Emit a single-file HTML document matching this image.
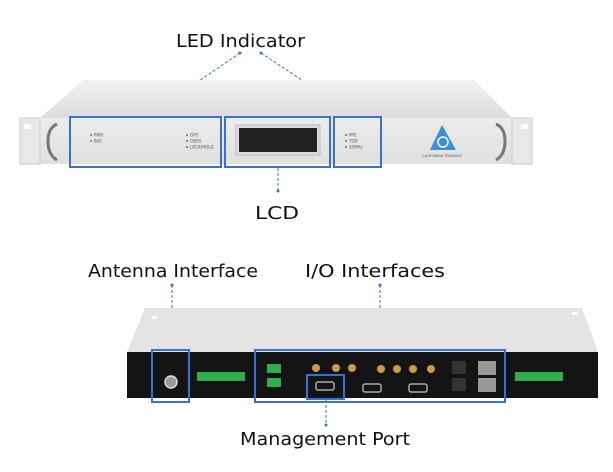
<!DOCTYPE html>
<html><head><meta charset="utf-8"><style>
html,body{margin:0;padding:0;background:#fff;}
svg{display:block}
text{font-family:"DejaVu Sans","Liberation Sans",sans-serif;}
</style></head><body>
<svg width="613" height="472" viewBox="0 0 613 472" xmlns="http://www.w3.org/2000/svg">
<defs>
<linearGradient id="top" x1="0" y1="0" x2="0" y2="1"><stop offset="0" stop-color="#f2f2f2"/><stop offset="1" stop-color="#dcdcdc"/></linearGradient>
<linearGradient id="front" x1="0" y1="0" x2="0" y2="1"><stop offset="0" stop-color="#ececec"/><stop offset="1" stop-color="#e0e0e0"/></linearGradient>
</defs>
<text x="176" y="47" font-size="18" fill="#111" textLength="129" lengthAdjust="spacingAndGlyphs">LED Indicator</text>
<g stroke="#3d6fd0" stroke-width="1" stroke-dasharray="3,2" fill="none">
<line x1="240" y1="53" x2="146" y2="117"/>
<line x1="261" y1="53" x2="358" y2="117"/>
<line x1="278" y1="168" x2="278" y2="190"/>
</g>
<circle cx="240" cy="53" r="1.5" fill="#3d6fd0"/><circle cx="261" cy="53" r="1.5" fill="#3d6fd0"/><circle cx="278" cy="191" r="1.5" fill="#3d6fd0"/>
<polygon points="83,80 474,80 512,118 40,118" fill="url(#top)"/>
<rect x="40" y="118" width="472" height="46" fill="url(#front)"/>
<rect x="20" y="118" width="20" height="46" fill="#e8e8e8" stroke="#ccc"/>
<rect x="512" y="118" width="20" height="46" fill="#e8e8e8" stroke="#ccc"/>
<rect x="24" y="124" width="7" height="5" rx="2" fill="#fff"/><rect x="521" y="124" width="7" height="5" rx="2" fill="#fff"/>
<path d="M57,124 Q48,128 48,141 Q48,155 57,160" stroke="#777" stroke-width="3" fill="none"/>
<path d="M496,124 Q505,128 505,141 Q505,155 496,160" stroke="#777" stroke-width="3" fill="none"/>
<rect x="236" y="125" width="84" height="30" fill="#ddd" stroke="#bbb"/>
<rect x="239" y="128" width="78" height="24" fill="#222"/>
<g font-size="4" fill="#555">
<circle cx="91" cy="135" r="1" fill="#2a2"/><text x="94" y="136.5">PWR</text>
<circle cx="91" cy="141" r="1" fill="#2a2"/><text x="94" y="142.5">BAC</text>
<circle cx="187" cy="135" r="1" fill="#2a2"/><text x="190" y="136.5">GPS</text>
<circle cx="187" cy="141" r="1" fill="#2a2"/><text x="190" y="142.5">GNSS</text>
<circle cx="187" cy="147" r="1" fill="#2a2"/><text x="190" y="148.5">LOCK/HOLD</text>
<circle cx="346" cy="135" r="1" fill="#2a2"/><text x="349" y="136.5">PPS</text>
<circle cx="346" cy="141" r="1" fill="#2a2"/><text x="349" y="142.5">TOD</text>
<circle cx="346" cy="147" r="1" fill="#2a2"/><text x="349" y="148.5">10MHz</text>
<text x="422" y="157" font-size="3.5">CALIFORNIA TRIANGLE</text>
</g>
<polygon points="442,125 430,150 456,150" fill="#3a8fd8"/>
<circle cx="443" cy="142" r="5" fill="none" stroke="#fff" stroke-width="1.5"/>
<g stroke="#3d6fd0" stroke-width="2" fill="none">
<rect x="70" y="117" width="151" height="50"/>
<rect x="225" y="117" width="105" height="50"/>
<rect x="334" y="117" width="47" height="50"/>
</g>
<text x="255" y="219" font-size="18" fill="#111" textLength="44" lengthAdjust="spacingAndGlyphs">LCD</text>
<text x="88" y="277" font-size="18" fill="#111" textLength="170" lengthAdjust="spacingAndGlyphs">Antenna Interface</text>
<text x="305" y="277" font-size="18" fill="#111" textLength="140" lengthAdjust="spacingAndGlyphs">I/O Interfaces</text>
<text x="240" y="445" font-size="18" fill="#111" textLength="170" lengthAdjust="spacingAndGlyphs">Management Port</text>
<g stroke="#3d6fd0" stroke-width="1" stroke-dasharray="3,2" fill="none">
<line x1="172" y1="285" x2="172" y2="350"/>
<line x1="380" y1="285" x2="380" y2="350"/>
<line x1="326" y1="400" x2="326" y2="425"/>
</g>
<circle cx="172" cy="285" r="1.5" fill="#3d6fd0"/><circle cx="380" cy="285" r="1.5" fill="#3d6fd0"/><circle cx="326" cy="425" r="1.5" fill="#3d6fd0"/>
<polygon points="145,308 582,308 598,352 127,352" fill="#e4e4e4"/>
<rect x="127" y="352" width="471" height="46" fill="#141414"/>
<rect x="152" y="316" width="5" height="3" fill="#fff"/><rect x="572" y="312" width="5" height="3" fill="#fff"/>
<circle cx="171" cy="382" r="6" fill="#999" stroke="#ddd" stroke-width="1.5"/>
<rect x="197" y="372" width="48" height="9" fill="#2fae4f"/>
<rect x="515" y="372" width="48" height="9" fill="#2fae4f"/>
<rect x="267" y="364" width="14" height="9" fill="#2fae4f"/>
<rect x="267" y="378" width="14" height="9" fill="#2fae4f"/>
<g fill="#c89a4a"><circle cx="316" cy="368" r="4"/><circle cx="336" cy="368" r="4"/><circle cx="352" cy="368" r="4"/><circle cx="381" cy="369" r="4"/><circle cx="397" cy="369" r="4"/><circle cx="413" cy="369" r="4"/><circle cx="431" cy="369" r="4"/></g>
<g fill="none" stroke="#aaa" stroke-width="1.5"><rect x="316" y="382" width="18" height="8" rx="2"/><rect x="363" y="384" width="18" height="8" rx="2"/><rect x="409" y="384" width="18" height="8" rx="2"/></g>
<rect x="452" y="361" width="14" height="13" fill="#333"/><rect x="452" y="378" width="14" height="13" fill="#333"/>
<rect x="478" y="361" width="18" height="14" fill="#999"/><rect x="478" y="378" width="18" height="14" fill="#999"/>
<g stroke="#3d6fd0" stroke-width="2" fill="none">
<rect x="152" y="350" width="37" height="52"/>
<rect x="255" y="350" width="250" height="52"/>
<rect x="307" y="375" width="37" height="24"/>
</g>
</svg>
</body></html>
